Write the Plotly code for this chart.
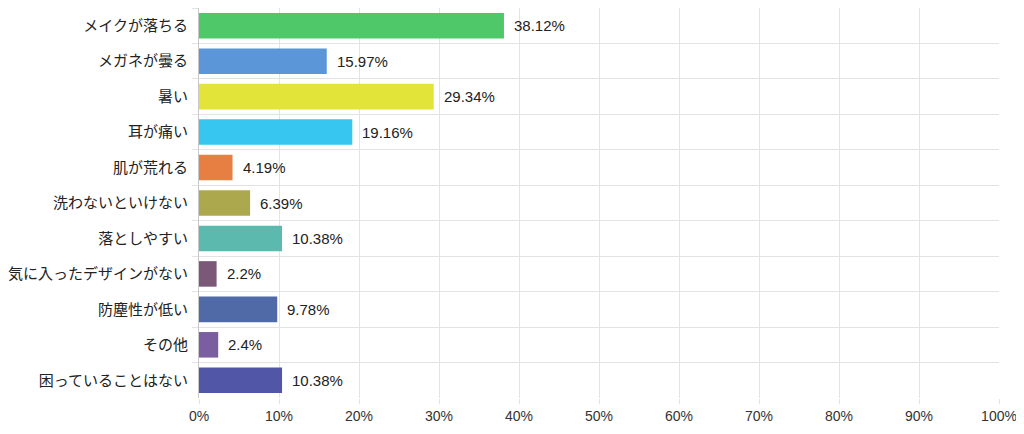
import plotly.graph_objects as go

categories = ["メイクが落ちる", "メガネが曇る", "暑い", "耳が痛い", "肌が荒れる", "洗わないといけない",
              "落としやすい", "気に入ったデザインがない", "防塵性が低い", "その他", "困っていることはない"]
values = [38.12, 15.97, 29.34, 19.16, 4.19, 6.39, 10.38, 2.2, 9.78, 2.4, 10.38]
colors = ["#4fc869", "#5b97d8", "#e2e43a", "#36c6ef", "#e77f43", "#aba84d", "#5bb9ad",
          "#7b5878", "#4f6aa6", "#7a5ea0", "#5157a6"]
x_ticks = [0, 10, 20, 30, 40, 50, 60, 70, 80, 90, 100]
x_tick_labels = [f"{t}%" for t in x_ticks]

fig = go.Figure(go.Bar(
    y=categories, x=values, orientation="h",
    marker=dict(color=colors, line=dict(width=0)),
    cliponaxis=False,
))

for c, v in zip(categories, values):
    fig.add_annotation(
        x=v, y=c, text=f"{v:g}%", showarrow=False,
        xanchor="left", yanchor="middle", xshift=8,
        font=dict(family="Liberation Sans, Arial, sans-serif", size=15, color="#222"),
    )

fig.update_layout(
    width=1016, height=426,
    margin=dict(l=191, r=25, t=0, b=36),
    plot_bgcolor="white", paper_bgcolor="white",
    bargap=0.28, showlegend=False,
    font=dict(family="Noto Sans CJK JP, Liberation Sans, sans-serif", size=15, color="#333"),
)
fig.update_xaxes(
    range=[0, 100], tickvals=x_ticks, ticktext=x_tick_labels,
    showgrid=True, gridcolor="#e3e3e3", gridwidth=1,
    zeroline=False, showline=False,
    ticks="outside", ticklen=5, tickcolor="#e3e3e3",
    tickfont=dict(family="Liberation Sans, Arial, sans-serif", size=14, color="#333"),
)
fig.update_yaxes(
    autorange="reversed", tickson="boundaries",
    showgrid=True, gridcolor="#e3e3e3", gridwidth=1,
    showline=True, linecolor="#c8c8c8", linewidth=1,
    ticks="outside", ticklen=6, tickcolor="#e3e3e3",
    ticklabelstandoff=7,
    tickfont=dict(family="Noto Sans CJK JP, sans-serif", size=15, color="#222"),
)

fig.write_html("out.html")
